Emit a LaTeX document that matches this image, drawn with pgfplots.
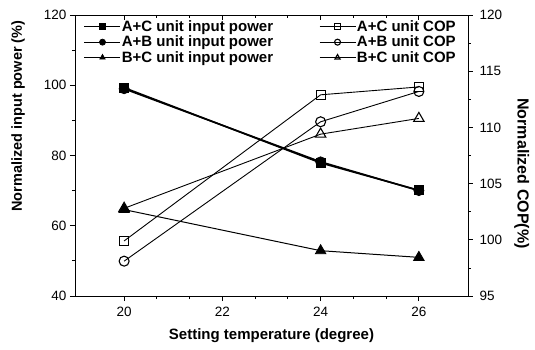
\documentclass[border=0pt]{standalone}
\usepackage{pgfplots}
\pgfplotsset{compat=1.18}
\usepackage{fontspec}
\setmainfont{Liberation Sans}

% data: setting temperature vs normalized input power / COP
\pgfplotstableread{
T  AC    AB    BC
20 99.3  99.0  64.6
24 77.9  78.2  52.9
26 70.1  70.0  51.0
}\power
\pgfplotstableread{
T  AC     AB     BC
20 99.9   98.1   102.8
24 112.9  110.5  109.4
26 113.6  113.2  110.8
}\cop

\pgfplotsset{
  base/.style={
    scale only axis, width=393pt, height=281pt,
    xmin=19, xmax=27,
    xtick={20,22,24,26}, minor x tick num=2,
    major tick length=5pt, minor tick length=3pt,
    every tick/.style={black, line width=0.8pt},
    axis line style={line width=0.9pt},
    tick label style={font=\fontsize{13.5}{15}\selectfont},
    /pgf/number format/assume math mode=true,
  },
  pw/.style={black, line width=1.6pt, mark options={solid, fill=black, line width=0.8pt}},
  cp/.style={black, line width=0.9pt, mark options={solid, fill=white, line width=1.1pt}},
}

\begin{document}
\begin{tikzpicture}[x=1pt,y=1pt]
\useasboundingbox (-75,-53) rectangle (460,296);

% left axis: input power
\begin{axis}[base,
  ymin=40, ymax=120, ytick={40,60,...,120}, minor y tick num=1,
  tick align=outside, xtick pos=left, ytick pos=left,
  xticklabel style={yshift=-3pt},
  xlabel={\bfseries Setting temperature (degree)},
  ylabel={\bfseries Normalized input power (\%)},
  xlabel style={font=\fontsize{15}{17}\selectfont, at={(axis description cs:0.5,-0.142)}, anchor=center},
  ylabel style={font=\fontsize{14.5}{16}\selectfont, at={(axis description cs:-0.145,0.64)}, anchor=center},
]
\addplot[pw, mark=square*, mark size=4.5pt] table[x=T, y=AC] {\power};
\addplot[pw, mark=*, mark size=5pt] table[x=T, y=AB] {\power};
\addplot[pw, line width=1pt, mark=triangle*, mark size=6pt] table[x=T, y=BC] {\power};
\end{axis}

% top border ticks
\begin{axis}[base,
  ymin=40, ymax=120,
  hide y axis, axis x line*=top, tick align=inside,
  xticklabels={},
]
\end{axis}

% right axis: COP
\begin{axis}[base,
  ymin=95, ymax=120, ytick={95,100,...,120}, minor y tick num=1,
  hide x axis, axis y line*=right, tick align=outside,
  yticklabel style={xshift=3pt},
  ylabel={\bfseries Normalized COP(\%)},
  ylabel style={font=\fontsize{16}{18}\selectfont, at={(axis description cs:1.137,0.436)}, anchor=center, rotate=180},
  legend columns=2,
  legend cell align=left,
  legend style={draw=none, fill=none, at={(axis description cs:0.015,0.995)}, anchor=north west,
    font=\fontsize{15}{17}\selectfont\bfseries, row sep=-1pt,
    /tikz/every even column/.append style={column sep=44pt},
    /tikz/every odd column/.append style={column sep=-1pt}},
  legend image code/.code={
    \draw[line width=0.8pt, mark size=3pt, mark repeat=2, mark phase=2]
      plot coordinates {(0pt,0pt) (18pt,0pt) (36pt,0pt)};},
]
\addlegendimage{black, mark=square*, mark options={solid, fill=black}}
\addlegendentry{A+C unit input power}
\addplot[cp, mark=square, mark size=4.5pt] table[x=T, y=AC] {\cop};
\addlegendentry{A+C unit COP}
\addlegendimage{black, mark=*, mark options={solid, fill=black}}
\addlegendentry{A+B unit input power}
\addplot[cp, mark=o, mark size=5pt] table[x=T, y=AB] {\cop};
\addlegendentry{A+B unit COP}
\addlegendimage{black, mark=triangle*, mark options={solid, fill=black}}
\addlegendentry{B+C unit input power}
\addplot[cp, mark=triangle, mark size=6pt] table[x=T, y=BC] {\cop};
\addlegendentry{B+C unit COP}
\end{axis}
\end{tikzpicture}
\end{document}
